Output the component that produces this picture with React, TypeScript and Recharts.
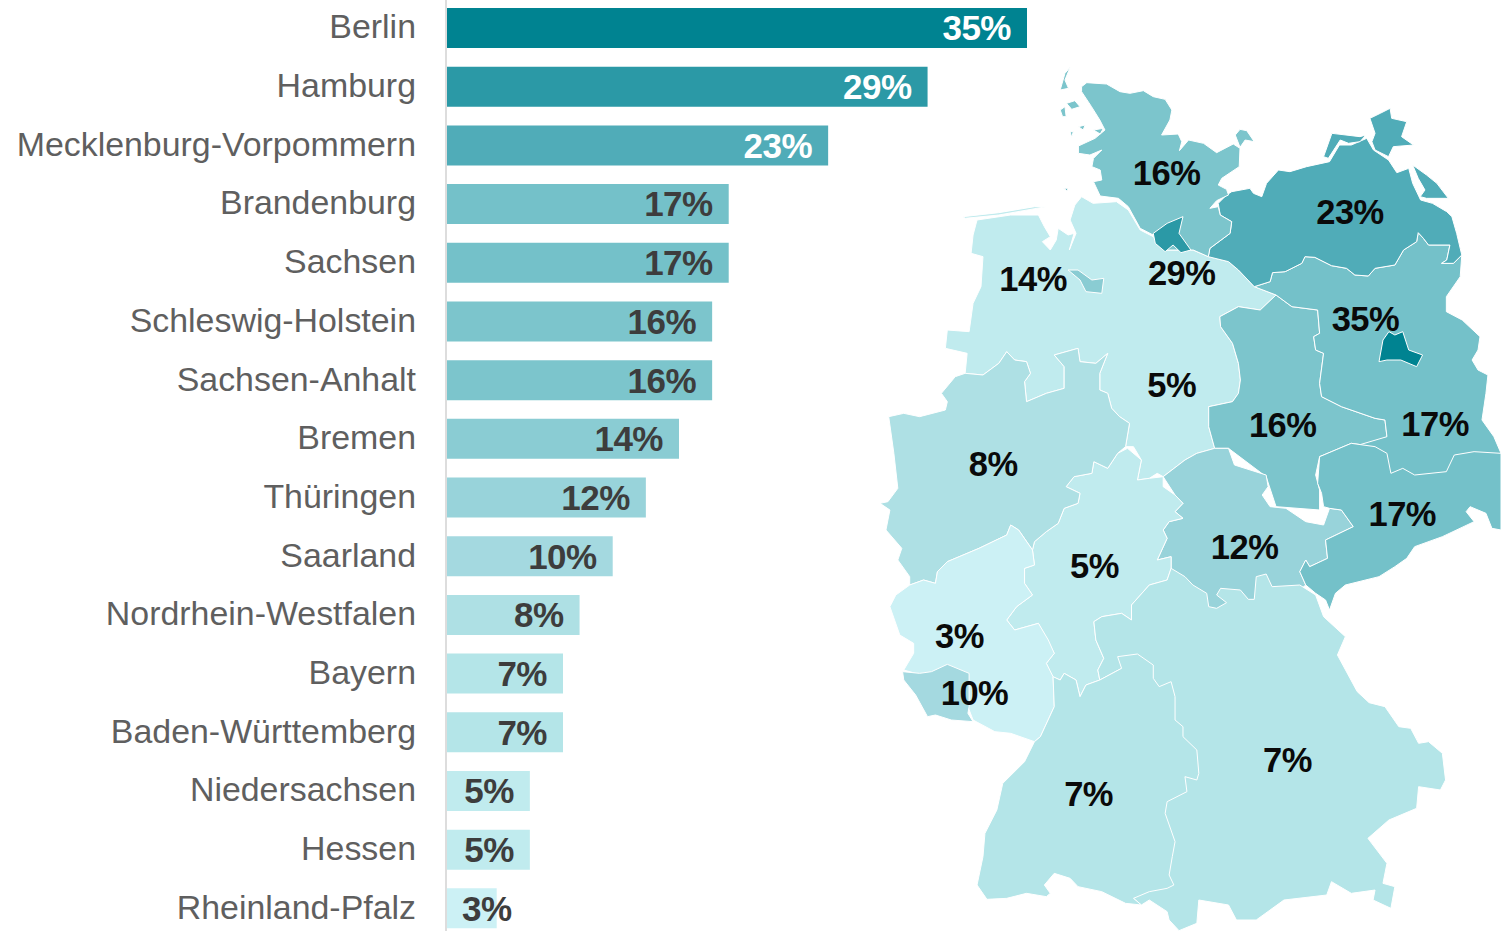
import React from "react";
import { BarChart, Bar, XAxis, YAxis, Cell, LabelList, ScatterChart, Scatter, Polygon, Text } from "recharts";

const states = ["Berlin","Hamburg","Mecklenburg-Vorpommern","Brandenburg","Sachsen","Schleswig-Holstein","Sachsen-Anhalt","Bremen","Thüringen","Saarland","Nordrhein-Westfalen","Bayern","Baden-Württemberg","Niedersachsen","Hessen","Rheinland-Pfalz"];
const shares = [35,29,23,17,17,16,16,14,12,10,8,7,7,5,5,3];
const fills = ["#008391","#2b99a6","#50acb8","#74c1c9","#74c1c9","#7cc5cc","#7cc5cc","#8accd3","#98d3da","#a4d9e0","#aee0e4","#b4e5e8","#b4e5e8","#c0ebee","#c0ebee","#ccf1f5"];
const barRows = states.map((name, i) => ({ name, share: shares[i] }));

type Pt = [number, number];
const NI: Pt[] = [[509,410],[538,430],[597,425],[627,450],[657,510],[690,530],[720,570],[790,570],[830,590],[880,605],[905,630],[945,680],[1000,705],[960,750],[905,740],[858,770],[860,800],[890,850],[905,910],[910,960],[905,1000],[890,1025],[830,1040],[830,1100],[845,1165],[800,1180],[770,1200],[715,1250],[700,1240],[680,1255],[650,1260],[660,1200],[640,1160],[620,1160],[630,1090],[605,1070],[585,1045],[575,1000],[555,990],[555,940],[575,880],[545,910],[505,905],[500,865],[440,885],[465,920],[465,985],[420,1000],[370,1025],[365,965],[380,940],[370,905],[340,900],[320,875],[300,910],[260,945],[215,940],[220,880],[165,865],[170,810],[225,815],[235,730],[255,680],[260,590],[230,580],[235,525],[245,480],[330,465],[400,465],[415,500],[430,530],[410,545],[430,570],[445,540],[450,505],[475,525],[490,520],[478,570],[495,520],[480,480],[492,435]];
const NI_ISLES: Pt[] = [[210,470],[300,458],[390,440],[420,440],[300,465],[215,475]];
const SA: Pt[] = [[1000,705],[1040,740],[1105,750],[1110,820],[1095,830],[1100,870],[1120,880],[1110,970],[1115,1010],[1165,1040],[1250,1075],[1275,1080],[1280,1130],[1250,1160],[1190,1150],[1110,1190],[1100,1245],[1110,1290],[1110,1350],[1000,1340],[975,1250],[880,1165],[845,1165],[830,1100],[830,1040],[890,1025],[905,1000],[910,960],[905,910],[890,850],[860,800],[858,770],[905,740],[960,750]];
const TH: Pt[] = [[715,1250],[770,1200],[800,1180],[845,1165],[880,1165],[895,1215],[975,1245],[980,1280],[965,1305],[985,1340],[1025,1345],[1075,1385],[1120,1395],[1135,1345],[1165,1350],[1195,1400],[1125,1440],[1130,1495],[1085,1520],[1075,1500],[1060,1535],[1075,1575],[1000,1650],[800,1650],[735,1560],[735,1525],[735,1490],[700,1500],[725,1435],[715,1410],[730,1385],[765,1375],[745,1355],[765,1330],[745,1305]];
const HE: Pt[] = [[470,1280],[490,1250],[535,1240],[540,1205],[575,1225],[600,1180],[625,1165],[660,1200],[650,1260],[680,1255],[715,1250],[715,1280],[745,1305],[765,1330],[745,1355],[765,1375],[730,1385],[715,1410],[725,1435],[700,1500],[735,1490],[735,1525],[725,1560],[680,1575],[635,1635],[635,1680],[610,1660],[560,1670],[540,1685],[545,1740],[565,1795],[550,1830],[555,1860],[520,1875],[505,1910],[495,1860],[465,1840],[455,1860],[435,1850],[420,1810],[440,1780],[400,1690],[340,1710],[320,1680],[345,1640],[385,1605],[365,1570],[365,1525],[390,1515],[385,1470],[390,1445],[420,1415],[450,1390],[465,1345],[500,1330],[505,1300]];
const NW: Pt[] = [[215,940],[260,945],[300,910],[320,875],[340,900],[370,905],[380,940],[365,965],[370,1025],[420,1000],[465,985],[465,920],[440,885],[500,865],[505,905],[545,910],[575,880],[555,940],[555,990],[575,1000],[585,1045],[605,1070],[630,1090],[620,1160],[600,1180],[575,1225],[540,1205],[535,1240],[490,1250],[470,1280],[505,1300],[500,1330],[465,1345],[450,1390],[420,1415],[390,1445],[385,1470],[350,1410],[330,1395],[320,1425],[250,1465],[170,1505],[145,1535],[140,1570],[110,1560],[75,1575],[75,1550],[45,1500],[55,1465],[15,1410],[25,1350],[0,1330],[20,1325],[45,1285],[35,1180],[22,1070],[60,1060],[100,1070],[165,1050],[170,1025],[155,1000],[190,950]];
const RP: Pt[] = [[75,1575],[110,1560],[140,1570],[145,1535],[170,1505],[250,1465],[320,1425],[330,1395],[350,1410],[385,1470],[390,1515],[365,1525],[365,1570],[385,1605],[345,1640],[320,1680],[340,1710],[400,1690],[425,1740],[440,1780],[420,1810],[437,1850],[440,1940],[405,2030],[390,2045],[330,2020],[290,2015],[235,1980],[222,1940],[150,1860],[60,1830],[85,1780],[85,1750],[50,1725],[25,1640],[40,1605]];
const SL: Pt[] = [[57,1835],[100,1840],[130,1835],[170,1813],[225,1840],[225,1940],[222,1960],[235,1985],[180,1980],[140,1965],[120,1970],[90,1905],[60,1860]];
const BY: Pt[] = [[735,1525],[770,1550],[790,1575],[825,1600],[830,1640],[850,1645],[875,1628],[850,1605],[860,1585],[910,1590],[930,1618],[945,1618],[950,1550],[975,1542],[990,1580],[1060,1575],[1100,1605],[1120,1670],[1175,1730],[1155,1785],[1205,1895],[1235,1928],[1275,1940],[1310,2000],[1340,2005],[1360,2050],[1385,2045],[1420,2080],[1428,2160],[1415,2190],[1360,2180],[1355,2245],[1285,2280],[1232,2335],[1280,2410],[1270,2470],[1300,2480],[1290,2545],[1245,2520],[1250,2490],[1190,2500],[1140,2465],[1128,2505],[1020,2520],[950,2580],[900,2580],[880,2535],[805,2520],[800,2590],[755,2612],[730,2580],[725,2555],[680,2520],[660,2535],[640,2515],[700,2300],[700,1950],[640,1850],[610,1825],[555,1860],[550,1830],[565,1795],[545,1740],[540,1685],[560,1670],[610,1660],[635,1680],[635,1635],[680,1575],[725,1560]];
const BW: Pt[] = [[437,1850],[455,1860],[465,1840],[495,1860],[505,1910],[520,1875],[555,1860],[610,1825],[600,1790],[650,1782],[690,1815],[690,1855],[705,1880],[735,1865],[745,1910],[745,1980],[765,2000],[765,2030],[800,2070],[805,2140],[800,2160],[770,2150],[775,2195],[725,2225],[720,2260],[745,2345],[738,2390],[730,2445],[742,2475],[725,2485],[680,2495],[640,2515],[660,2535],[620,2530],[560,2495],[500,2480],[480,2455],[440,2440],[415,2475],[430,2500],[420,2510],[370,2500],[320,2515],[270,2518],[245,2475],[260,2390],[265,2320],[295,2250],[310,2170],[365,2105],[390,2045],[405,2030],[440,1940]];
const BB: Pt[] = [[945,680],[985,665],[991,638],[1023,635],[1065,610],[1073,590],[1098,592],[1140,617],[1178,625],[1199,645],[1233,648],[1250,625],[1300,615],[1322,570],[1355,545],[1359,518],[1372,535],[1385,555],[1439,555],[1431,600],[1418,610],[1448,610],[1469,585],[1465,650],[1430,710],[1430,755],[1470,780],[1515,830],[1510,870],[1495,900],[1510,930],[1535,945],[1530,1000],[1520,1080],[1550,1130],[1568,1180],[1500,1300],[1200,1300],[1110,1190],[1280,1130],[1275,1080],[1250,1075],[1165,1040],[1115,1010],[1110,970],[1120,880],[1100,870],[1095,830],[1110,820],[1105,750],[1040,740],[1000,705]];
const SN: Pt[] = [[1110,1190],[1190,1150],[1250,1160],[1280,1180],[1290,1240],[1320,1225],[1350,1245],[1430,1235],[1450,1185],[1500,1175],[1568,1180],[1568,1410],[1545,1405],[1530,1360],[1490,1340],[1480,1355],[1500,1385],[1420,1430],[1350,1460],[1330,1495],[1300,1520],[1260,1550],[1175,1575],[1150,1600],[1135,1650],[1125,1620],[1100,1600],[1075,1575],[1060,1535],[1075,1500],[1085,1520],[1130,1495],[1125,1440],[1195,1400],[1165,1350],[1135,1345],[1120,1340],[1115,1300],[1105,1270]];
const BE: Pt[] = [[1260,905],[1270,840],[1285,815],[1300,825],[1320,815],[1335,870],[1370,885],[1355,920],[1315,900],[1280,900]];
const MV: Pt[] = [[829,590],[880,605],[905,630],[945,680],[985,665],[991,638],[1023,635],[1065,610],[1073,590],[1098,592],[1140,617],[1178,625],[1199,645],[1233,648],[1250,625],[1300,615],[1322,570],[1355,545],[1359,518],[1372,535],[1385,555],[1439,555],[1431,600],[1418,610],[1448,610],[1469,585],[1456,520],[1444,470],[1431,455],[1395,430],[1365,420],[1345,370],[1335,325],[1305,338],[1284,300],[1246,270],[1229,235],[1190,255],[1160,255],[1135,305],[1077,320],[1035,335],[1006,330],[976,370],[964,410],[943,400],[934,385],[888,395],[875,405],[854,430],[859,465],[888,485],[884,520],[833,565]];
const RUEGEN: Pt[] = [[1237,175],[1263,160],[1288,145],[1292,175],[1330,185],[1317,230],[1347,255],[1296,260],[1284,290],[1250,270],[1242,245],[1250,220]];
const USEDOM: Pt[] = [[1345,315],[1380,345],[1406,370],[1435,415],[1380,415],[1364,410],[1376,390],[1359,355]];
const DARSS: Pt[] = [[1141,220],[1212,230],[1227,225],[1212,245],[1183,250],[1162,240],[1132,295],[1120,290]];
const SH: Pt[] = [[509,80],[522,68],[572,72],[606,95],[631,100],[665,92],[690,110],[720,118],[737,150],[732,180],[711,225],[753,222],[762,245],[756,272],[779,240],[817,250],[850,278],[892,252],[909,265],[907,320],[863,355],[854,375],[875,388],[880,405],[850,422],[833,445],[854,440],[859,465],[888,485],[884,520],[833,565],[829,590],[791,570],[720,570],[690,525],[657,505],[627,440],[602,415],[556,408],[539,365],[560,360],[556,330],[535,320],[539,295],[560,270],[530,285],[501,280],[501,258],[543,235],[568,210],[555,180],[534,140],[509,95]];
const FEHMARN: Pt[] = [[897,225],[909,208],[926,212],[945,245],[922,240],[909,262]];
const SYLT: Pt[] = [[480,22],[467,40],[455,90],[476,85],[467,60]];
const FOEHR: Pt[] = [[471,130],[492,122],[505,140],[484,148]];
const AMRUM: Pt[] = [[455,150],[467,140],[470,170],[461,170]];
const PELLWORM: Pt[] = [[501,200],[518,195],[513,210]];
const NORDSTRAND: Pt[] = [[539,210],[564,205],[556,222]];
const HOOGE: Pt[] = [[480,215],[488,215],[484,232]];
const HH: Pt[] = [[690,520],[725,490],[765,470],[755,520],[785,570],[760,578],[740,555],[720,575],[695,550]];
const NEUWERK: Pt[] = [[464,385],[474,385],[472,392]];
const HB: Pt[] = [[475,630],[500,630],[535,660],[565,655],[560,700],[520,695],[505,660]];

type Region = { x: number; y: number; outline: Pt[]; fill: string; label?: string };
const region = (outline: Pt[], fill: string, label?: string, at?: Pt): Region => ({ x: at ? at[0] : outline[0][0], y: at ? at[1] : outline[0][1], outline, fill, label });
const mapRegions: Region[] = [
  region(NI, "#c0ebee", "5%", [738,978]),
  region(NI_ISLES, "#c0ebee"),
  region(SA, "#7cc5cc", "16%", [1018,1097]),
  region(TH, "#98d3da", "12%", [922,1463]),
  region(HE, "#c0ebee", "5%", [543,1520]),
  region(NW, "#aee0e4", "8%", [287,1215]),
  region(RP, "#ccf1f5", "3%", [202,1730]),
  region(SL, "#a4d9e0", "10%", [240,1902]),
  region(BY, "#b4e5e8", "7%", [1030,2103]),
  region(BW, "#b4e5e8", "7%", [528,2205]),
  region(BB, "#74c1c9", "17%", [1403,1095]),
  region(SN, "#74c1c9", "17%", [1320,1365]),
  region(BE, "#008391", "35%", [1227,780]),
  region(MV, "#50acb8", "23%", [1188,458]),
  region(RUEGEN, "#50acb8"),
  region(USEDOM, "#50acb8"),
  region(DARSS, "#50acb8"),
  region(SH, "#7cc5cc", "16%", [725,340]),
  region(FEHMARN, "#7cc5cc"),
  region(SYLT, "#7cc5cc"),
  region(FOEHR, "#7cc5cc"),
  region(AMRUM, "#7cc5cc"),
  region(PELLWORM, "#7cc5cc"),
  region(NORDSTRAND, "#7cc5cc"),
  region(HOOGE, "#7cc5cc"),
  region(HH, "#2b99a6", "29%", [763,640]),
  region(NEUWERK, "#2b99a6"),
  region(HB, "#8accd3", "14%", [388,658]),
];

const FONT = '"Liberation Sans", Arial, sans-serif';
const MAP_W = 621, MAP_H = 871, UNITS_X = 1568, UNITS_Y = 2613;

function RegionShape(props: any) {
  const r: Region = props.payload;
  const kx = MAP_W / UNITS_X, ky = MAP_H / UNITS_Y;
  const points = r.outline.map(([px, py]) => ({ x: props.cx + (px - r.x) * kx, y: props.cy + (py - r.y) * ky }));
  return <Polygon points={points} fill={r.fill} stroke="#ffffff" strokeWidth={1} />;
}

function BarValue(props: any) {
  const { x, y, width, height, value, index } = props;
  const small = width < 60;
  return (
    <Text x={small ? x + 15 : x + width - 16} y={y + height / 2} textAnchor={small ? "start" : "end"} verticalAnchor="middle"
      fontFamily={FONT} fontWeight={700} fontSize={35} letterSpacing={-0.5} fill={index < 3 ? "#ffffff" : "#3d3d3d"}>
      {`${value}%`}
    </Text>
  );
}

function MapValue(props: any) {
  const { x, y, value } = props;
  if (!value) return null;
  return (
    <Text x={x + 4} y={y + 3.5} textAnchor="middle" verticalAnchor="middle" fontFamily={FONT} fontWeight={700} fontSize={34.5} letterSpacing={-0.5} fill="#0a0a0a">
      {value}
    </Text>
  );
}

export default function App() {
  return (
    <div style={{ position: "fixed", left: 0, top: 0, width: 1501, height: 931, overflow: "hidden", background: "#fff" }}>
      <div style={{ position: "absolute", left: 0, top: -1.33 }}>
        <BarChart width={1501} height={939} data={barRows} layout="vertical" barSize={40} margin={{ top: 0, right: 474, bottom: 0, left: 0 }}>
          <XAxis type="number" hide domain={[0, 35]} />
          <YAxis type="category" dataKey="name" width={447} interval={0} tickLine={false} tickMargin={25}
            axisLine={{ stroke: "#dddddd", strokeWidth: 2, transform: "translate(-1,0)" }}
            tick={{ fontFamily: FONT, fontSize: 33.9, fill: "#5f5f5f", dy: -2 }} />
          <Bar dataKey="share" isAnimationActive={false}>
            {barRows.map((row, i) => <Cell key={row.name} fill={fills[i]} />)}
            <LabelList dataKey="share" content={BarValue} />
          </Bar>
        </BarChart>
      </div>
      <div style={{ position: "absolute", left: 880, top: 60 }}>
        <ScatterChart width={MAP_W} height={MAP_H} margin={{ top: 0, right: 0, bottom: 0, left: 0 }}>
          <XAxis type="number" dataKey="x" hide domain={[0, UNITS_X]} />
          <YAxis type="number" dataKey="y" hide reversed domain={[0, UNITS_Y]} />
          <Scatter data={mapRegions} isAnimationActive={false} shape={RegionShape}>
            <LabelList dataKey="label" content={MapValue} />
          </Scatter>
        </ScatterChart>
      </div>
    </div>
  );
}
